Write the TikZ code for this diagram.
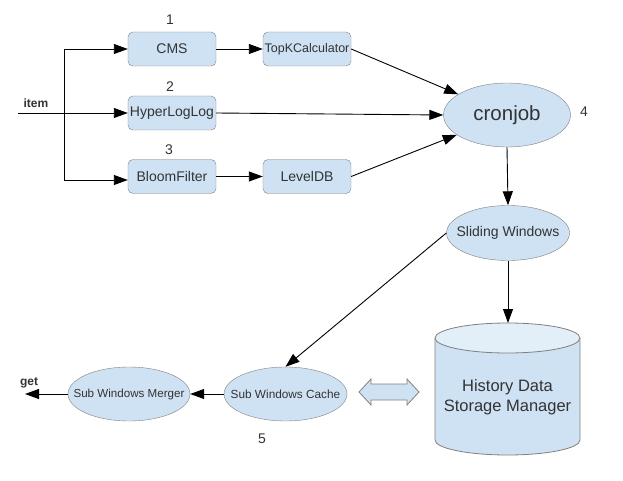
\documentclass[tikz,border=0pt]{standalone}
\usepackage{fontspec}
\setmainfont{Liberation Sans}
\usetikzlibrary{shapes.geometric,arrows.meta}
\definecolor{boxfill}{HTML}{CFE2F3}
\definecolor{boxtop}{HTML}{E2EEF8}
\definecolor{boxline}{HTML}{808080}
\definecolor{txt}{HTML}{333333}
\begin{document}
\begin{tikzpicture}[x=1pt,y=-1pt,
  rbox/.style={draw=boxline,fill=boxfill,rounded corners=5pt,minimum width=88pt,minimum height=34pt,inner sep=0pt,text=txt,font=\fontsize{14}{16}\selectfont},
  ell/.style={ellipse,draw=boxline,fill=boxfill,inner sep=0pt,text=txt},
  conn/.style={line width=0.9pt,-{Triangle[length=14pt,width=10pt]}},
  plain/.style={line width=0.9pt},
  lbl/.style={text=txt,font=\fontsize{14}{16}\selectfont,inner sep=0pt},
  blbl/.style={text=txt,font=\bfseries\fontsize{12}{14}\selectfont,inner sep=0pt}]
\useasboundingbox (0,0) rectangle (623,481);

% boxes
\node[rbox] (cms) at (172,49) {CMS};
\node[rbox,font=\fontsize{12.5}{14}\selectfont] (topk) at (307,49) {\makebox[0pt]{TopKCalculator}};
\node[rbox] (hll) at (172,113) {HyperLogLog};
\node[rbox] (bloom) at (172,176.5) {BloomFilter};
\node[rbox] (level) at (307,176.5) {LevelDB};

\node[lbl] (n1) at (170,20) {1};
\node[lbl] (n2) at (170,87) {2};
\node[lbl] (n3) at (169,150) {3};
\node[blbl] (item) at (36,103) {item};

% ellipses
\node[ell,minimum width=127pt,minimum height=64pt,font=\fontsize{20.5}{22}\selectfont] (cron) at (507,115) {\makebox[0pt]{cronjob}};
\node[lbl] (n4) at (584,112) {4};
\node[ell,minimum width=123pt,minimum height=55pt,font=\fontsize{14}{16}\selectfont] (slide) at (508,233) {\makebox[0pt]{Sliding Windows}};
\node[ell,minimum width=123pt,minimum height=54pt,font=\fontsize{11.8}{14}\selectfont] (cache) at (285.5,394) {\makebox[0pt]{Sub Windows Cache}};
\node[ell,minimum width=122pt,minimum height=54pt,font=\fontsize{11.6}{14}\selectfont] (merger) at (129,394) {\makebox[0pt]{Sub Windows Merger}};
\node[lbl] (n5) at (262,439) {5};
\node[blbl] (get) at (29,383) {get};

% cylinder
\fill[boxfill] (435,338) -- (435,440) arc[start angle=180,end angle=0,x radius=72.5,y radius=15] -- (580,338) -- cycle;
\draw[boxline,line width=0.8pt] (435,338) -- (435,440) arc[start angle=180,end angle=0,x radius=72.5,y radius=15] -- (580,338);
\draw[boxline,fill=boxtop,line width=0.8pt] (507.5,338) ellipse[x radius=72.5,y radius=15];
\node[text=txt,font=\fontsize{16.5}{20}\selectfont,align=center,inner sep=0pt] (hist) at (507.5,397) {History Data\\Storage Manager};
\coordinate (histtop) at (508,323);

% double arrow
\coordinate (dbl) at (389,392);
\draw[boxline,fill=boxfill,line width=0.8pt] (dbl) ++(-30,0) -- ++(12,-13) -- ++(0,5) -- ++(36,0) -- ++(0,-5) -- ++(12,13) -- ++(-12,13) -- ++(0,-5) -- ++(-36,0) -- ++(0,5) -- cycle;

% connectors
\coordinate (in) at (18,113);
\coordinate (j1) at (64,49);
\coordinate (j3) at (64,180);
\coordinate (out) at (25,396);
\draw[plain] (j1) -- (j3);
\draw[conn] (in) -- (hll.west);
\draw[conn] (j1) -- (cms.west);
\draw[conn] (j3) -- (j3 -| bloom.west);
\draw[conn] (cms.east) -- (topk.west);
\draw[conn] (bloom.east) -- (level.west);
\draw[conn] (topk.east) -- (cron);
\draw[conn] (hll.east) -- (cron.west);
\draw[conn] (level.east) -- (cron);
\draw[conn] (cron.south) -- (slide.north);
\draw[conn] (slide.south) -- (histtop);
\draw[conn] (slide.west) -- (cache.north);
\draw[conn] (cache.west) -- (merger.east);
\draw[conn] (merger.west) -- (merger.west -| out);
\end{tikzpicture}
\end{document}
